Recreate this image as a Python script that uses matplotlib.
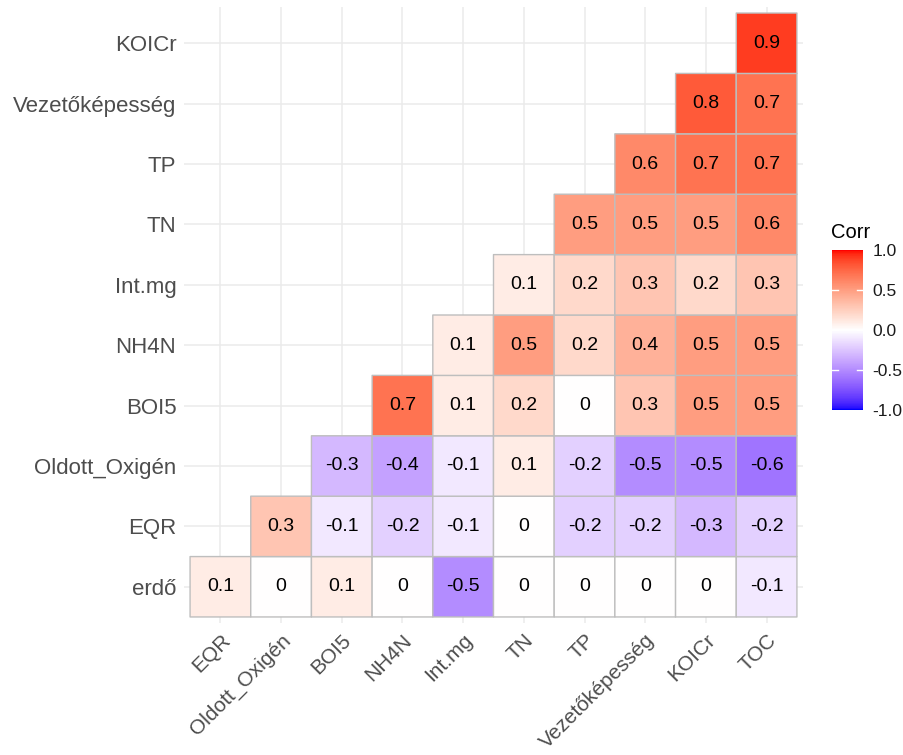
import numpy as np
import matplotlib
matplotlib.use('Agg')
import matplotlib.pyplot as plt
from matplotlib.colors import ListedColormap
from matplotlib.transforms import blended_transform_factory

plt.rcParams['font.family'] = ['Liberation Sans', 'DejaVu Sans']

x_labels = ['EQR', 'Oldott_Oxigén', 'BOI5', 'NH4N', 'Int.mg', 'TN', 'TP',
            'Vezetőképesség', 'KOICr', 'TOC']
y_labels = ['erdő', 'EQR', 'Oldott_Oxigén', 'BOI5', 'NH4N', 'Int.mg', 'TN',
            'TP', 'Vezetőképesség', 'KOICr']

# row i (bottom to top) holds the values for columns i..9
corr_rows = [
    [0.1, 0, 0.1, 0, -0.5, 0, 0, 0, 0, -0.1],
    [0.3, -0.1, -0.2, -0.1, 0, -0.2, -0.2, -0.3, -0.2],
    [-0.3, -0.4, -0.1, 0.1, -0.2, -0.5, -0.5, -0.6],
    [0.7, 0.1, 0.2, 0, 0.3, 0.5, 0.5],
    [0.1, 0.5, 0.2, 0.4, 0.5, 0.5],
    [0.1, 0.2, 0.3, 0.2, 0.3],
    [0.5, 0.5, 0.5, 0.6],
    [0.6, 0.7, 0.7],
    [0.8, 0.7],
    [0.9],
]

n = len(x_labels)
mat = np.full((n, n), np.nan)
for i, row in enumerate(corr_rows):
    mat[i, i:i + len(row)] = row


# blue - white - red gradient interpolated in CIELAB
def srgb_to_lab(rgb):
    rgb = np.asarray(rgb, float)
    lin = np.where(rgb <= 0.04045, rgb / 12.92, ((rgb + 0.055) / 1.055) ** 2.4)
    M = np.array([[0.4124, 0.3576, 0.1805],
                  [0.2126, 0.7152, 0.0722],
                  [0.0193, 0.1192, 0.9505]])
    xyz = M @ lin / np.array([0.95047, 1.0, 1.08883])
    f = np.where(xyz > 0.008856, np.cbrt(xyz), 7.787 * xyz + 16 / 116)
    return np.array([116 * f[1] - 16, 500 * (f[0] - f[1]), 200 * (f[1] - f[2])])


def lab_to_srgb(lab):
    L, a, b = lab
    fy = (L + 16) / 116
    fx = fy + a / 500
    fz = fy - b / 200
    f = np.array([fx, fy, fz])
    xyz = np.where(f ** 3 > 0.008856, f ** 3, (f - 16 / 116) / 7.787)
    xyz = xyz * np.array([0.95047, 1.0, 1.08883])
    Minv = np.array([[3.2406, -1.5372, -0.4986],
                     [-0.9689, 1.8758, 0.0415],
                     [0.0557, -0.2040, 1.0570]])
    lin = np.clip(Minv @ xyz, 0, 1)
    rgb = np.where(lin <= 0.0031308, 12.92 * lin, 1.055 * lin ** (1 / 2.4) - 0.055)
    return np.clip(rgb, 0, 1)


lo, mid, hi = srgb_to_lab([0, 0, 1]), srgb_to_lab([1, 1, 1]), srgb_to_lab([1, 0, 0])
colors = []
for t in np.linspace(-1, 1, 256):
    if t < 0:
        lab = lo + (mid - lo) * (t + 1)
    else:
        lab = mid + (hi - mid) * t
    colors.append(lab_to_srgb(lab))
cmap = ListedColormap(colors)

fig = plt.figure(figsize=(9.04, 7.55), dpi=100)
ax = fig.add_axes([184 / 904, 132 / 755, 619 / 904, 616 / 755])

xs = np.arange(n + 1) - 0.5
mesh = ax.pcolor(xs, xs, np.ma.masked_invalid(mat), cmap=cmap, vmin=-1, vmax=1,
                 edgecolors='#BEBEBE', linewidth=1.0)

for i in range(n):
    for j in range(n):
        v = mat[i, j]
        if np.isnan(v):
            continue
        r = round(v, 1)
        s = '0' if r == 0 else f'{r:g}'
        ax.text(j, i, s, ha='center', va='center', fontsize=14, color='black')

ax.set_xlim(-0.6, n - 0.4)
ax.set_ylim(-0.6, n - 0.4)
ax.set_xticks(range(n))
ax.set_yticks(range(n))
ax.set_xticklabels(x_labels, rotation=45, ha='right', va='top',
                   rotation_mode='anchor')
ax.set_yticklabels(y_labels)
ax.tick_params(length=0, labelcolor='#4D4D4D')
ax.tick_params(axis='y', pad=5.5, labelsize=16)
ax.tick_params(axis='x', pad=5.5, labelsize=15)
ax.grid(color='#EBEBEB', linewidth=1.1)
ax.set_axisbelow(True)
for sp in ax.spines.values():
    sp.set_visible(False)

# legend colour bar
cax = fig.add_axes([832 / 904, (755 - 410) / 755, 31 / 904, 160 / 755])
cb = fig.colorbar(mesh, cax=cax, ticks=[-1, -0.5, 0, 0.5, 1])
cb.outline.set_visible(False)
cb.ax.set_yticklabels(['-1.0', '-0.5', '0.0', '0.5', '1.0'])
cb.ax.tick_params(length=0, labelsize=12.5, labelcolor='#1A1A1A', pad=7)
tr = blended_transform_factory(cax.transAxes, cax.transData)
for t in [-0.5, 0, 0.5]:
    cax.plot([0, 0.2], [t, t], color='white', lw=1, transform=tr)
    cax.plot([0.8, 1], [t, t], color='white', lw=1, transform=tr)
fig.text(831 / 904, 1 - 232 / 755, 'Corr', fontsize=14.5, color='black',
         ha='left', va='center')

fig.savefig('out.png', dpi=100, facecolor='white')
